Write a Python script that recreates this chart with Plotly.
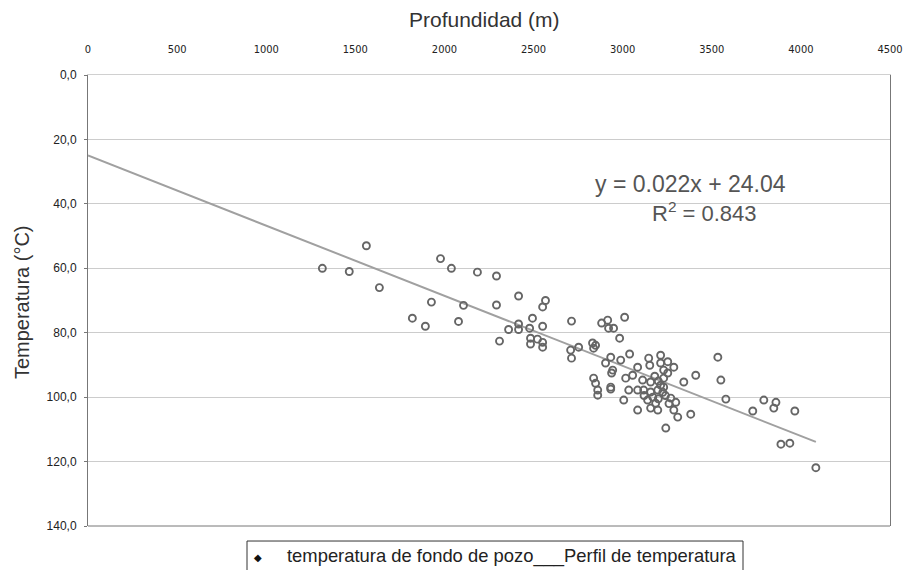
import plotly.graph_objects as go

# --- data ---
depth_m = [1315, 1466, 1562, 1635, 1820, 1893, 1927, 1978, 2039, 2079, 2107, 2185, 2292, 2292,
           2416, 2567, 2551, 2494, 2551, 2713, 2416, 2416, 2360, 2478, 2309, 2483, 2522, 2551,
           2483, 2551, 2708, 2753, 2713, 2831, 2848, 2837, 2882, 2916, 2921, 2949, 3011, 2983,
           2933, 2904, 2989, 3039, 2944, 2938, 2933, 2933, 2837, 2848, 2860, 2860, 3017, 3056,
           3084, 3146, 3152, 3213, 3213, 3230, 3253, 3112, 3157, 3034, 3084, 3118, 3157, 3197,
           3230, 3006, 3084, 3140, 3157, 3185, 3197, 3169, 3242, 3253, 3287, 3230, 3213, 3225,
           3410, 3343, 3534, 3551, 3579, 3270, 3298, 3287, 3309, 3382, 3730, 3792, 3860, 3848,
           3966, 3888, 3938, 4084, 3180, 3200, 3240, 3260, 3200, 3120]
temp_c = [60.0, 61.0, 53.0, 66.0, 75.5, 78.0, 70.5, 57.0, 60.0, 76.5, 71.5, 61.2, 62.4, 71.4,
          68.6, 70.0, 72.0, 75.5, 78.0, 76.4, 77.3, 79.0, 79.0, 78.6, 82.6, 81.7, 82.0, 83.0,
          83.5, 84.5, 85.4, 84.5, 87.9, 83.2, 83.9, 84.8, 77.0, 76.1, 78.6, 78.6, 75.2, 81.7,
          87.6, 89.4, 88.5, 86.6, 91.6, 92.5, 96.9, 97.5, 94.1, 95.7, 97.8, 99.4, 94.1, 93.2,
          90.7, 87.9, 90.1, 87.0, 89.4, 91.6, 92.5, 94.7, 95.3, 97.8, 97.8, 97.8, 98.4, 97.8,
          96.9, 100.9, 104.0, 100.9, 103.4, 101.9, 104.0, 100.0, 109.6, 89.0, 90.7, 94.1, 96.3, 98.5,
          93.2, 95.3, 87.6, 94.7, 100.6, 100.3, 101.6, 104.0, 106.2, 105.3, 104.3, 100.9, 101.6, 103.4,
          104.3, 114.6, 114.3, 121.9, 93.5, 95.0, 99.5, 102.0, 100.5, 99.5]

# trend line ("Perfil de temperatura"): y = 0.022x + 24.04, drawn between its end points
trend_depth = [0, 4084]
trend_temp = [25.0, 113.9]

x_ticks = [0, 500, 1000, 1500, 2000, 2500, 3000, 3500, 4000, 4500]
y_ticks = [0, 20, 40, 60, 80, 100, 120, 140]
y_ticklabels = ["0,0", "20,0", "40,0", "60,0", "80,0", "100,0", "120,0", "140,0"]

equation_text = "y = 0.022x + 24.04"
r2_text = "R<sup>2</sup> = 0.843"
legend_marker = "temperatura de fondo de pozo"
legend_line = "Perfil de temperatura"

FONT = "Liberation Sans, Arial, sans-serif"
NARROW = "DejaVu Sans Condensed, Liberation Sans Narrow, Arial Narrow, Liberation Sans, sans-serif"

fig = go.Figure()
fig.add_trace(go.Scatter(
    x=trend_depth, y=trend_temp, mode="lines",
    line=dict(color="#a0a0a0", width=2), name=legend_line, showlegend=False,
    hoverinfo="skip"))
fig.add_trace(go.Scatter(
    x=depth_m, y=temp_c, mode="markers",
    marker=dict(symbol="circle-open", size=7, color="#666666", line=dict(width=1.9)),
    name=legend_marker, showlegend=False))

fig.update_xaxes(
    side="top", range=[0, 4500], tickvals=x_ticks, ticktext=[str(v) for v in x_ticks],
    tickfont=dict(family=NARROW, size=11, color="#222"),
    ticks="outside", ticklen=17, tickcolor="rgba(0,0,0,0)",
    showgrid=False, zeroline=False, automargin=False,
    showline=True, linecolor="#d0d0d0", linewidth=1, mirror=False)
fig.update_yaxes(
    range=[140, 0], tickvals=y_ticks, ticktext=y_ticklabels,
    tickfont=dict(family=FONT, size=12, color="#222"),
    ticks="outside", ticklen=3, tickcolor="#777", ticklabelstandoff=5,
    showgrid=True, gridcolor="#cccccc", gridwidth=1, zeroline=False, automargin=False,
    showline=True, linecolor="#777", linewidth=1, mirror=True)

# bottom frame line
fig.add_shape(type="line", xref="paper", yref="paper", x0=0, x1=1, y0=0, y1=0,
              line=dict(color="#777", width=1))

annotations = [
    dict(text="Profundidad (m)", xref="paper", yref="paper", x=0.495, y=1.122,
         showarrow=False, font=dict(family=FONT, size=21, color="#333"),
         xanchor="center", yanchor="middle"),
    dict(text="Temperatura (°C)", xref="paper", yref="paper", x=-0.082, y=0.497,
         showarrow=False, textangle=-90, font=dict(family=FONT, size=20, color="#333"),
         xanchor="center", yanchor="middle"),
    dict(text=equation_text, x=3382, y=33.9, xref="x", yref="y", showarrow=False,
         font=dict(family=FONT, size=23, color="#555"), xanchor="center", yanchor="middle"),
    dict(text=r2_text, x=3460, y=42.5, xref="x", yref="y", showarrow=False,
         font=dict(family=FONT, size=22, color="#555"), xanchor="center", yanchor="middle"),
    dict(text="◆", xref="paper", yref="paper", x=(258 - 88) / 802, y=-0.069,
         showarrow=False, font=dict(family="DejaVu Sans", size=10, color="#111"),
         xanchor="center", yanchor="middle"),
    dict(text=legend_marker + "___" + legend_line, xref="paper", yref="paper",
         x=(285 - 88) / 802, y=-0.066, showarrow=False,
         font=dict(family=FONT, size=18.4, color="#222"), xanchor="left", yanchor="middle"),
]
fig.update_layout(annotations=annotations)

# legend frame
fig.add_shape(type="rect", xref="paper", yref="paper",
              x0=(247 - 88) / 802, x1=(743 - 88) / 802, y0=-0.12, y1=-0.0333,
              line=dict(color="#333", width=1), fillcolor="rgba(0,0,0,0)")

# the page body adds an 8px margin, so the figure is 8px narrower
fig.update_layout(
    width=904, height=562,
    margin=dict(l=80, r=22, t=67, b=44),
    paper_bgcolor="white", plot_bgcolor="white",
    showlegend=False,
)

fig.write_html("out.html")
